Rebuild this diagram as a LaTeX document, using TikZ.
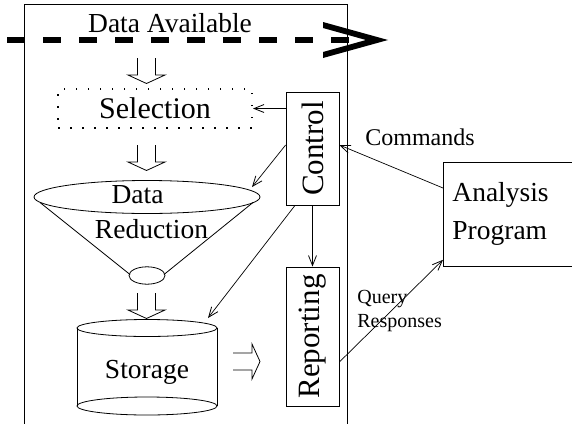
\documentclass[tikz,border=0pt]{standalone}
\usepackage{fontspec}
\usepackage{graphicx}
\setmainfont{Liberation Serif}
\usetikzlibrary{arrows.meta}
\begin{document}
\begin{tikzpicture}[x=1pt,y=-1pt,line width=0.8pt,
  conn/.style={-{Straight Barb[length=10pt,width=8pt,line width=0.8pt]},line width=0.7pt},
  boxnode/.style={draw,line width=0.8pt,inner sep=0pt},
  selbox/.style={draw,line width=2pt,dash pattern=on 1.5pt off 10.5pt,inner sep=0pt},
  bigtext/.style={font=\fontsize{27.5}{35}\selectfont},
  rottext/.style={font=\fontsize{31}{36}\selectfont},
  smalltext/.style={font=\fontsize{20}{24}\selectfont},
  hdown/.pic={\draw[line width=0.8pt] (-9,0)--(-9,17)--(-18.5,17)--(0,25.5)--(18.5,17)--(9,17)--(9,0);},
  hright/.pic={\draw[line width=0.8pt] (0,-8.5)--(19,-8.5)--(19,-17.5)--(27,0)--(19,17.5)--(19,8.5)--(0,8.5);}
]
\useasboundingbox (0,0) rectangle (572,423);
% frame
\draw (24,430) -- (24,4) -- (347,4) -- (347,430);
% data available dashed arrow
\coordinate (dA) at (7,40);
\coordinate (dB) at (350,40);
\draw[line width=5.5pt,dash pattern=on 18pt off 18pt] (dA) -- (dB);
\fill (323,22) -- (388,40) -- (323,58) -- (323,52) -- (366,40) -- (323,28) -- cycle;
\node[bigtext,anchor=base] (da) at (170,32) {Data Available};
% hollow arrows
\pic at (146.5,58) {hdown};
\pic at (146.5,145) {hdown};
\pic at (146.5,293) {hdown};
\pic at (233,361.5) {hright};
% selection
\node[selbox,minimum width=194pt,minimum height=39pt,font=\fontsize{30}{36}\selectfont] (sel) at (155,108.5) {Selection};
% control and reporting
\node[boxnode,minimum width=53pt,minimum height=113pt,rottext] (ctrl) at (312.5,148.5) {\rotatebox{90}{Control}};
\node[boxnode,minimum width=53pt,minimum height=139pt,rottext] (rep) at (312.5,336.5) {\rotatebox{90}{Reporting}};
% analysis program
\node[boxnode,anchor=north west,minimum width=160pt,minimum height=104pt,text width=142pt,inner xsep=9pt,align=left,font=\fontsize{27.5}{38}\selectfont] (ap) at (443,162) {Analysis\\Program};
% cone
\draw (147,197) ellipse [x radius=113, y radius=16.5];
\draw (40,202.5) -- (130,274.5);
\draw (253,202.5) -- (164,274.5);
\draw (147,275.5) ellipse [x radius=18, y radius=8.7];
\coordinate (coneR) at (252,187);
\node[bigtext,align=center] (red) at (151.5,212) {Data\hspace*{28pt}\\Reduction};
% storage
\draw (147,328) ellipse [x radius=70, y radius=8.5];
\draw (77,328) -- (77,406);
\draw (217,328) -- (217,406);
\draw (147,406) ellipse [x radius=70, y radius=9];
\coordinate (storTR) at (208,318);
\node[bigtext] (stor) at (147,372) {Storage};
% connectors
\draw[conn] (ctrl.west |- sel.east) -- (sel.east);
\draw[conn] ([yshift=3.5pt]ctrl.west) -- (coneR);
\draw[conn] ([xshift=-17.5pt]ctrl.south) -- (storTR);
\draw[conn] (ctrl.south) -- (ctrl.south |- rep.north);
\draw[conn] ([yshift=-26pt]ap.north west) -- ([yshift=3.5pt]ctrl.east);
\draw[conn] ([yshift=-25.5pt]rep.east) -- ([yshift=7pt]ap.south west);
% labels
\node[font=\fontsize{24}{28}\selectfont,anchor=base] (cmd) at (420,145) {Commands};
\node[smalltext,anchor=base west,align=left,inner sep=0pt] (qr) at (357,327) {Query\\Responses};
\end{tikzpicture}
\end{document}
